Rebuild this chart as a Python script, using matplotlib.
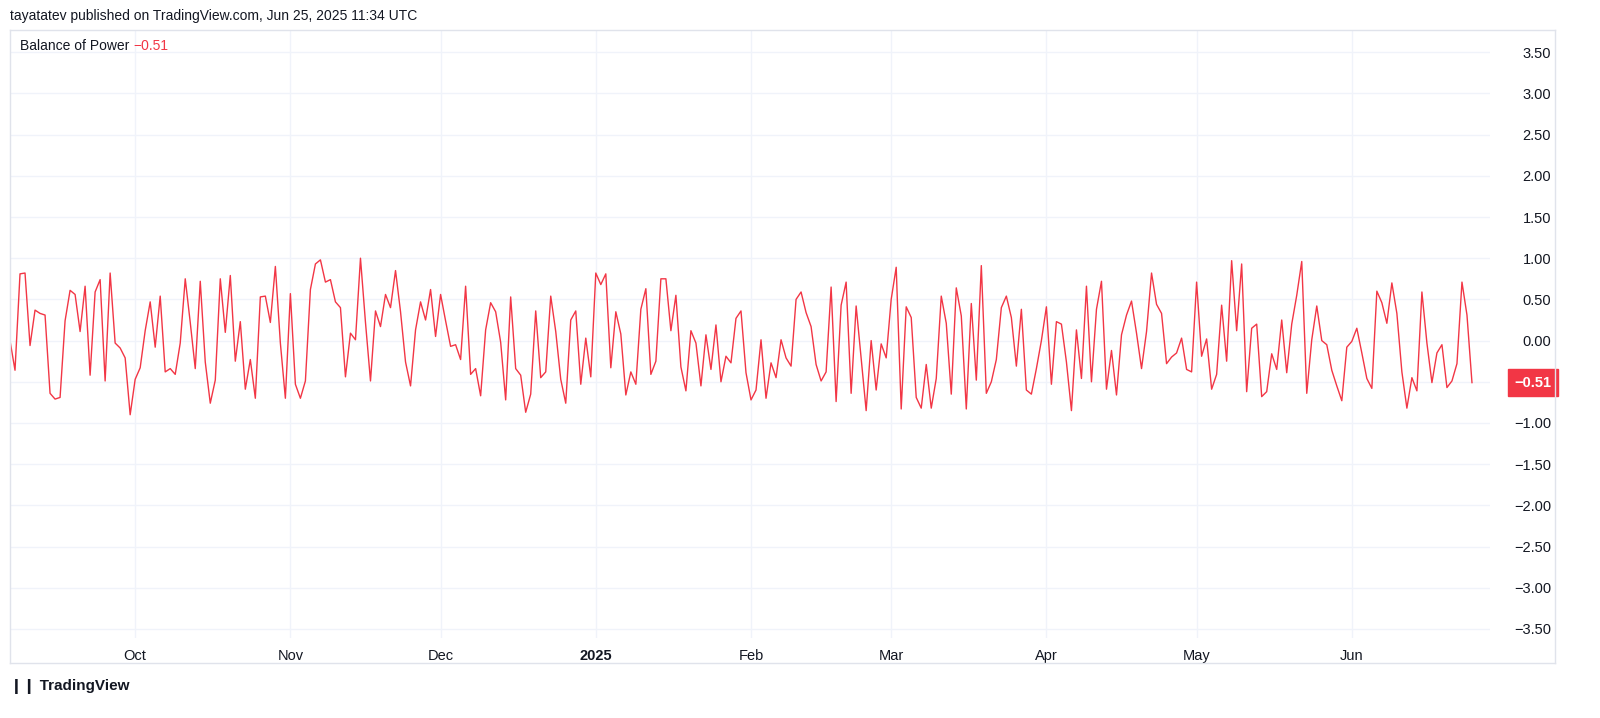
import matplotlib
matplotlib.use("Agg")
import matplotlib.pyplot as plt
import pandas as pd

bop = [0.00, -0.36, 0.81, 0.82, -0.06, 0.37, 0.33, 0.31, -0.64, -0.71, -0.69, 0.24, 0.61, 0.56, 0.11, 0.66, -0.42, 0.59, 0.74, -0.49, 0.82, -0.03, -0.09, -0.21, -0.90, -0.47, -0.33, 0.12, 0.47, -0.08, 0.54, -0.38, -0.34, -0.41, -0.03, 0.75, 0.22, -0.34, 0.72, -0.26, -0.76, -0.48, 0.75, 0.10, 0.79, -0.25, 0.23, -0.59, -0.23,
       -0.70, 0.53, 0.54, 0.22, 0.90, -0.03, -0.70, 0.57, -0.53, -0.70, -0.49, 0.62, 0.93, 0.98, 0.71, 0.74, 0.47, 0.40, -0.44, 0.09, 0.01, 1.00, 0.22, -0.49, 0.36, 0.17, 0.56, 0.40, 0.85, 0.35, -0.26, -0.55, 0.13, 0.47, 0.25, 0.62, 0.05, 0.56, 0.24, -0.07, -0.05, -0.23, 0.66, -0.41, -0.34, -0.67, 0.13, 0.46, 0.35,
       -0.02, -0.72, 0.53, -0.34, -0.42, -0.87, -0.65, 0.36, -0.45, -0.38, 0.54, 0.11, -0.47, -0.76, 0.25, 0.36, -0.53, 0.03, -0.44, 0.82, 0.68, 0.81, -0.33, 0.35, 0.08, -0.66, -0.38, -0.53, 0.38, 0.63, -0.41, -0.25, 0.75, 0.75, 0.12, 0.55, -0.32, -0.61, 0.12, -0.03, -0.55, 0.07, -0.35, 0.19, -0.50, -0.19, -0.27, 0.27, 0.36,
       -0.39, -0.72, -0.60, 0.01, -0.70, -0.27, -0.45, 0.01, -0.21, -0.31, 0.50, 0.59, 0.34, 0.17, -0.29, -0.49, -0.38, 0.65, -0.74, 0.43, 0.71, -0.64, 0.42, -0.22, -0.85, 0.00, -0.60, -0.04, -0.21, 0.50, 0.89, -0.83, 0.41, 0.28, -0.69, -0.82, -0.29, -0.82, -0.46, 0.54, 0.21, -0.65, 0.64, 0.30, -0.83, 0.45, -0.48, 0.91, -0.64,
       -0.50, -0.23, 0.40, 0.54, 0.28, -0.31, 0.38, -0.60, -0.65, -0.34, 0.00, 0.41, -0.53, 0.23, 0.20, -0.26, -0.85, 0.13, -0.46, 0.66, -0.50, 0.38, 0.72, -0.59, -0.12, -0.66, 0.07, 0.31, 0.48, 0.09, -0.34, 0.11, 0.82, 0.44, 0.33, -0.28, -0.20, -0.15, 0.03, -0.35, -0.38, 0.71, -0.19, 0.02, -0.59, -0.41, 0.43, -0.25, 0.97,
       0.12, 0.93, -0.62, 0.15, 0.20, -0.68, -0.62, -0.16, -0.35, 0.25, -0.39, 0.20, 0.55, 0.96, -0.64, 0.01, 0.42, 0.00, -0.05, -0.36, -0.55, -0.73, -0.08, -0.01, 0.15, -0.15, -0.46, -0.58, 0.60, 0.46, 0.21, 0.70, 0.33, -0.38, -0.82, -0.45, -0.61, 0.59, -0.03, -0.51, -0.15, -0.05, -0.57, -0.49, -0.28, 0.71, 0.31, -0.51]
end_date = "2025-06-25"
dates = pd.date_range(end=end_date, periods=len(bop), freq="D")
y_ticks = [3.5, 3.0, 2.5, 2.0, 1.5, 1.0, 0.5, 0.0, -0.5, -1.0, -1.5, -2.0, -2.5, -3.0, -3.5]
month_ticks = ["2024-10-01", "2024-11-01", "2024-12-01", "2025-01-01", "2025-02-01",
               "2025-03-01", "2025-04-01", "2025-05-01", "2025-06-01"]
month_labels = ["Oct", "Nov", "Dec", "2025", "Feb", "Mar", "Apr", "May", "Jun"]

plt.rcParams['font.family'] = ['Liberation Sans', 'DejaVu Sans']
RED = "#f23645"
W, H = 1600, 718
fig = plt.figure(figsize=(W/100, H/100), dpi=100)

L, R, T, B = 10, 1490, 30, 638
ax = fig.add_axes([L/W, 1-B/H, (R-L)/W, (B-T)/H])
ax.plot(dates, bop, color=RED, lw=1.0)
ax.set_xlim(dates[0], dates[-1] + pd.Timedelta(days=3.6))
ax.set_ylim(-3.61, 3.77)
ax.set_yticks(y_ticks)
ax.yaxis.tick_right()
ax.set_yticklabels(["" if v == -0.5 else f"{v:.2f}".replace("-", "\u2212") for v in y_ticks])
ax.tick_params(axis='y', length=0, pad=44, labelsize=10.5, colors="#131722")
for lbl in ax.get_yticklabels():
    lbl.set_horizontalalignment("right")
mt = pd.to_datetime(month_ticks)
ax.set_xticks(mt)
ax.set_xticklabels(month_labels)
ax.tick_params(axis='x', length=0, pad=8, labelsize=10.5, colors="#131722")
for lbl in ax.get_xticklabels():
    if lbl.get_text() == "2025":
        lbl.set_fontweight("bold")
ax.grid(True, color="#f0f3fa", lw=1)
for s in ax.spines.values():
    s.set_visible(False)

frame = fig.add_axes([L/W, 1-663/H, (1555-L)/W, (663-T)/H])
frame.patch.set_alpha(0)
frame.set_xticks([]); frame.set_yticks([])
for s in frame.spines.values():
    s.set_color("#e0e3eb"); s.set_lw(1)

fig.text(10/W, 1-16/H, "tayatatev published on TradingView.com, Jun 25, 2025 11:34 UTC",
         fontsize=10, color="#131722", va="center")
fig.text(20/W, 1-46/H, "Balance of Power", fontsize=10, color="#131722", va="center")
last = f"{bop[-1]:.2f}".replace("-", "\u2212")
fig.text(133/W, 1-46/H, last, fontsize=10, color=RED, va="center")
ax.annotate(last, xy=(1.0, bop[-1]), xycoords=('axes fraction', 'data'),
            xytext=(31, 0), textcoords='offset points', ha='center', va='center', fontsize=10.5,
            color="white", fontweight="bold",
            bbox=dict(boxstyle="square,pad=0.45", fc=RED, ec=RED))
fig.text(10/W, 1-686/H, "\u2759\u2759 TradingView", fontsize=11, fontweight="bold", color="#131722", va="center")
fig.savefig("out.png", dpi=100)
